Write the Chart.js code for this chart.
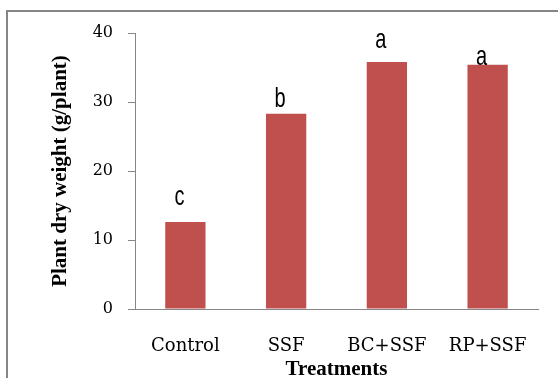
<!DOCTYPE html>
<html lang="en">
<head>
  <meta charset="UTF-8" />
  <title>Plant dry weight by treatment</title>
  <script src="https://cdn.jsdelivr.net/npm/chart.js"></script>
  <style>
    html, body { margin: 0; padding: 0; background: #fff; }
    #wrap { width: 558px; height: 378px; }
  </style>
</head>
<body>
  <div id="wrap"><canvas id="dryChart" width="558" height="378"></canvas></div>
  <script>
    // values
    const treatments = ['Control', 'SSF', 'BC+SSF', 'RP+SSF'];
    const dryWeight = [12.6, 28.3, 35.8, 35.4];
    const yTicks = [0, 10, 20, 30, 40];
    // significance letters and the value their baseline sits at
    const sigLetters = ['c', 'b', 'a', 'a'];
    const letterAt = [15.1, 29.3, 37.8, 35.4];

    const grey = '#868686';

    const frame = {
      id: 'frame',
      beforeDraw(chart) {
        const ctx = chart.ctx;
        ctx.save();
        ctx.fillStyle = '#fff';
        ctx.fillRect(0, 0, chart.width, chart.height);
        ctx.strokeStyle = grey;
        ctx.lineWidth = 2;
        ctx.strokeRect(7, 11, 700, 500);
        ctx.restore();
      }
    };

    const letters = {
      id: 'letters',
      afterDatasetsDraw(chart) {
        const ctx = chart.ctx;
        const bars = chart.getDatasetMeta(0).data;
        const y = chart.scales.y;
        ctx.save();
        ctx.fillStyle = '#000';
        ctx.font = '20px "Liberation Sans", Arial, sans-serif';
        ctx.textAlign = 'center';
        ctx.textBaseline = 'alphabetic';
        bars.forEach((bar, i) => {
          ctx.save();
          ctx.translate(bar.x - 6, y.getPixelForValue(letterAt[i]));
          ctx.scale(1, 1.4);
          ctx.fillText(sigLetters[i], 0, 0);
          ctx.restore();
        });
        ctx.restore();
      }
    };

    new Chart(document.getElementById('dryChart'), {
      type: 'bar',
      data: {
        labels: treatments,
        datasets: [{
          data: dryWeight,
          backgroundColor: '#C0504D',
          barPercentage: 0.4,
          categoryPercentage: 1
        }]
      },
      options: {
        responsive: false,
        animation: false,
        layout: { padding: { top: 33, right: 20, bottom: 0, left: 0 } },
        plugins: { legend: { display: false }, tooltip: { enabled: false } },
        scales: {
          x: {
            afterFit: s => { s.height = 69; },
            grid: { display: false, drawTicks: false, tickLength: 0 },
            border: { display: true, color: grey, width: 1 },
            ticks: {
              color: '#000',
              padding: 27,
              maxRotation: 0,
              autoSkip: false,
              font: { family: '"DejaVu Serif", serif', size: 18 }
            },
            title: {
              display: true,
              text: 'Treatments',
              color: '#000',
              padding: { top: 0, bottom: 0 },
              font: { family: '"Liberation Serif", serif', size: 21, weight: 'bold', lineHeight: 0.76 }
            }
          },
          y: {
            min: 0,
            max: 40,
            afterFit: s => { s.width = 135; },
            afterBuildTicks: s => { s.ticks = yTicks.map(v => ({ value: v })); },
            grid: { drawOnChartArea: false, drawTicks: true, tickLength: 7, color: grey },
            border: { display: true, color: grey, width: 1 },
            ticks: {
              color: '#000',
              padding: 15,
              font: { family: '"DejaVu Serif", serif', size: 16 }
            },
            title: {
              display: true,
              text: 'Plant dry weight (g/plant)',
              color: '#000',
              padding: { top: 48, bottom: 0 },
              font: { family: '"Liberation Serif", serif', size: 21, weight: 'bold' }
            }
          }
        }
      },
      plugins: [frame, letters]
    });
  </script>
</body>
</html>
